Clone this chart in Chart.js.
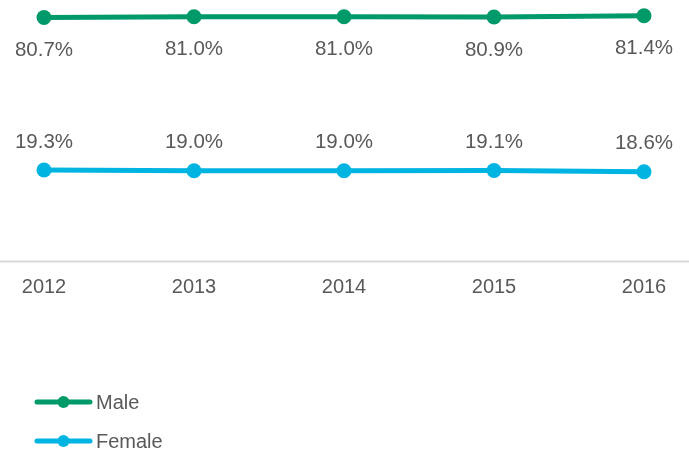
<!DOCTYPE html>
<html>
<head>
<meta charset="utf-8">
<script src="https://cdn.jsdelivr.net/npm/chart.js@4/dist/chart.umd.min.js"></script>
<style>
  html, body { margin: 0; padding: 0; background: #ffffff; }
  #wrap { width: 689px; height: 452px; position: relative; }
</style>
</head>
<body>
<div id="wrap"><canvas id="chart_genderShare"></canvas></div>
<script>
var years = ['2012', '2013', '2014', '2015', '2016'];
var maleShare = [80.7, 81.0, 81.0, 80.9, 81.4];
var femaleShare = [19.3, 19.0, 19.0, 19.1, 18.6];

var textGrey = '#595959';
var fontFamily = '"Liberation Sans", Arial, sans-serif';

var labelPlugin = {
    id: 'valueLabels',
    afterDatasetsDraw: function(chart) {
        var ctx = chart.ctx;
        ctx.save();
        ctx.font = '20.5px ' + fontFamily;
        ctx.fillStyle = textGrey;
        ctx.textAlign = 'center';
        ctx.textBaseline = 'middle';
        chart.data.datasets.forEach(function(ds, i) {
            var meta = chart.getDatasetMeta(i);
            var below = ds.label === 'Male';
            meta.data.forEach(function(pt, j) {
                var y = below ? pt.y + 33 : pt.y - 28;
                ctx.fillText(ds.data[j].toFixed(1) + '%', pt.x, y);
            });
        });
        ctx.restore();
    }
};

var baselinePlugin = {
    id: 'baseline',
    beforeDatasetsDraw: function(chart) {
        var ctx = chart.ctx;
        var y = chart.chartArea.bottom;
        ctx.save();
        ctx.strokeStyle = '#d9d9d9';
        ctx.lineWidth = 2;
        ctx.beginPath();
        ctx.moveTo(0, y);
        ctx.lineTo(chart.width, y);
        ctx.stroke();
        ctx.restore();
    }
};

var legendPlugin = {
    id: 'sideLegend',
    afterDraw: function(chart) {
        var ctx = chart.ctx;
        ctx.save();
        chart.data.datasets.forEach(function(ds, i) {
            var y = 402 + i * 39;
            ctx.strokeStyle = ds.borderColor;
            ctx.lineWidth = 5;
            ctx.lineCap = 'round';
            ctx.beginPath();
            ctx.moveTo(37, y);
            ctx.lineTo(90, y);
            ctx.stroke();
            ctx.fillStyle = ds.borderColor;
            ctx.beginPath();
            ctx.arc(63.5, y, 6, 0, Math.PI * 2);
            ctx.fill();
            ctx.fillStyle = textGrey;
            ctx.font = '20px ' + fontFamily;
            ctx.textAlign = 'left';
            ctx.textBaseline = 'middle';
            ctx.fillText(ds.label, 96, y + 1);
        });
        ctx.restore();
    }
};

var chart_genderShare = new Chart(document.getElementById('chart_genderShare'), {
    type: 'line',
    data: {
        labels: years,
        datasets: [
            {
                label: 'Male',
                data: maleShare,
                borderColor: '#00996a',
                backgroundColor: '#00996a',
                borderWidth: 5,
                pointRadius: 7.5,
                pointHoverRadius: 7.5,
                pointBorderWidth: 0,
                tension: 0,
                clip: false
            },
            {
                label: 'Female',
                data: femaleShare,
                borderColor: '#00b4e2',
                backgroundColor: '#00b4e2',
                borderWidth: 5,
                pointRadius: 7.5,
                pointHoverRadius: 7.5,
                pointBorderWidth: 0,
                tension: 0,
                clip: false
            }
        ]
    },
    options: {
        animation: false,
        responsive: true,
        maintainAspectRatio: false,
        layout: {
            autoPadding: false,
            padding: { left: 44, right: 45, top: 0, bottom: 0 }
        },
        plugins: {
            legend: { display: false },
            tooltip: { enabled: false }
        },
        scales: {
            x: {
                type: 'category',
                offset: false,
                grid: { display: false, drawTicks: false },
                border: { display: false },
                ticks: {
                    color: textGrey,
                    padding: 14,
                    maxRotation: 0,
                    font: { family: fontFamily, size: 20 }
                },
                afterFit: function(scale) {
                    scale.height = 190.5;
                }
            },
            y: {
                display: false,
                min: -17.5,
                max: 87.75
            }
        }
    },
    plugins: [baselinePlugin, labelPlugin, legendPlugin]
});
</script>
</body>
</html>
